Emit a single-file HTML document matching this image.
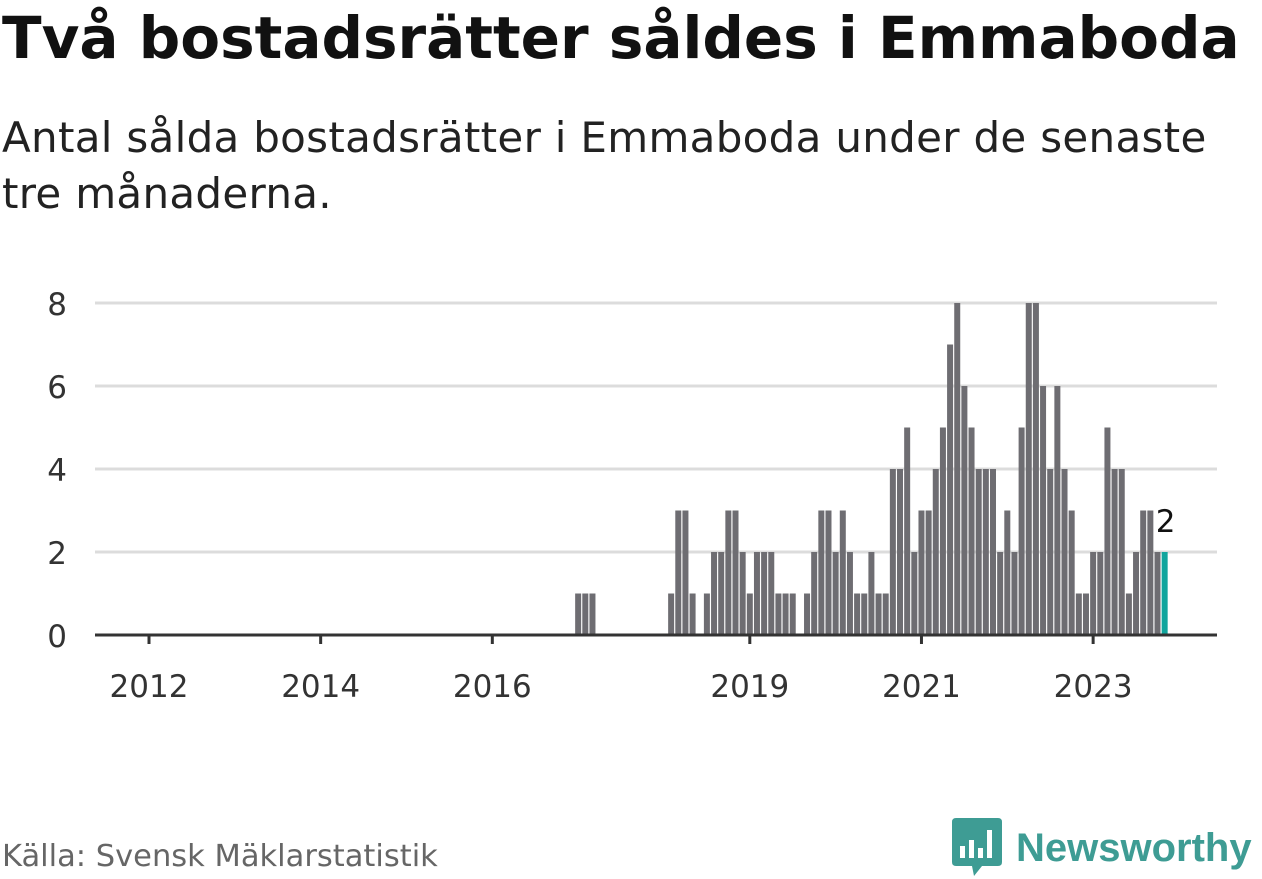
<!DOCTYPE html>
<html><head><meta charset="utf-8"><style>
body{margin:0;width:1262px;height:879px;background:#fff;font-family:"DejaVu Sans","Liberation Sans",sans-serif;position:relative;overflow:hidden}
h1{position:absolute;left:2px;top:4px;margin:0;font-size:58px;font-weight:bold;color:#111;white-space:nowrap}
.sub{position:absolute;left:2px;top:110px;font-size:42px;line-height:56px;color:#222;width:1240px;letter-spacing:0.3px}
.src{position:absolute;left:2px;top:839px;font-size:30.5px;color:#666}
.logo{position:absolute;left:952px;top:818px;display:flex;align-items:center}
.logo span{font-family:"Liberation Sans",sans-serif;font-size:40px;font-weight:bold;color:#3e9c94;margin-left:14px}
</style></head><body>
<h1>Två bostadsrätter såldes i Emmaboda</h1>
<div class="sub">Antal sålda bostadsrätter i Emmaboda under de senaste tre månaderna.</div>
<svg id="chart" width="1262" height="879" style="position:absolute;left:0;top:0"></svg>
<div class="src">Källa: Svensk Mäklarstatistik</div>
<div class="logo">
<svg width="50" height="60" viewBox="0 0 50 60"><path d="M0 4 Q0 0 4 0 H46 Q50 0 50 4 V44 Q50 48 46 48 H30 L22 58 L20 48 H4 Q0 48 0 44Z" fill="#3e9c94"/><rect x="8" y="28" width="5" height="12" fill="#fff"/><rect x="17" y="22" width="5" height="18" fill="#fff"/><rect x="26" y="30" width="5" height="10" fill="#fff"/><rect x="35" y="12" width="5" height="28" fill="#fff"/></svg>
<span>Newsworthy</span></div>
<script>
const startYear = 2017;
const startMonth = 0;
const values = [1,1,1,0,0,0,0,0,0,0,0,0,0,1,3,3,1,0,1,2,2,3,3,2,1,2,2,2,1,1,1,0,1,2,3,3,2,3,2,1,1,2,1,1,4,4,5,2,3,3,4,5,7,8,6,5,4,4,4,2,3,2,5,8,8,6,4,6,4,3,1,1,2,2,5,4,4,1,2,3,3,2,2];
const yTicks = [0,2,4,6,8];
const xTickYears = [2012,2014,2016,2019,2021,2023];
const NS="http://www.w3.org/2000/svg";
const svg=document.getElementById('chart');
const X0=149, MW=7.1525, Y0=635, YU=41.5;
const FONT='DejaVu Sans, Liberation Sans, sans-serif';
function xMonth(y,m){return X0+((y-2012)*12+m)*MW;}
function yv(v){return Y0-v*YU;}
function mk(t,a){const e=document.createElementNS(NS,t);for(const k in a)e.setAttribute(k,a[k]);svg.appendChild(e);return e;}
yTicks.forEach(v=>{
  if(v>0){const g=mk('line',{x1:95,x2:1217,y1:yv(v),y2:yv(v),stroke:'#dcdcdc','stroke-width':3});
  
  }
  const t=mk('text',{x:67,y:yv(v)+12,'text-anchor':'end','font-size':31,fill:'#333','font-family':FONT});
  t.textContent=v;
  
  
});
values.forEach((v,i)=>{
  if(v<=0)return;
  const m=startMonth+i, y=startYear+Math.floor(m/12);
  const cx=xMonth(y,m%12);
  const last=i===values.length-1;
  const r=mk('rect',{x:cx-3,y:yv(v),width:6,height:v*YU,fill:last?'#11a59d':'#6e6d72'});
  
  
  if(last){
    const l=mk('text',{x:cx+1,y:yv(v)-20,'text-anchor':'middle','font-size':31,fill:'#111',stroke:'#fff','stroke-width':5,'paint-order':'stroke','font-family':FONT});
    l.textContent=v;
    
    
  }
});
const ax=mk('line',{x1:95,x2:1217,y1:Y0,y2:Y0,stroke:'#333','stroke-width':3});


xTickYears.forEach(yr=>{
  const x=xMonth(yr,0);
  const tk=mk('line',{x1:x,x2:x,y1:Y0,y2:Y0+9,stroke:'#333','stroke-width':3});
  
  
  const t=mk('text',{x:x,y:Y0+62,'text-anchor':'middle','font-size':31,fill:'#333','font-family':FONT});
  t.textContent=yr;
  
  
});
</script>
</body></html>
